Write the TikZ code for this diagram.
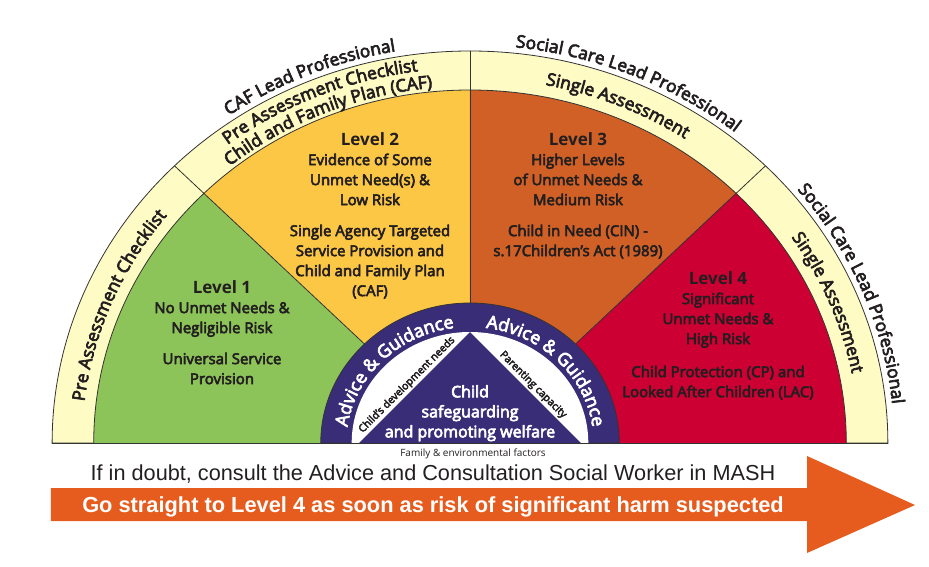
\documentclass[tikz,border=0pt]{standalone}
\usepackage{fontspec}
\setmainfont{Open Sans}
\newfontfamily\semifont[FakeBold=4]{Open Sans}
\newfontfamily\narrowfont{Liberation Sans}
\usetikzlibrary{decorations.text}
\definecolor{lvlone}{HTML}{8CC45A}
\definecolor{lvltwo}{HTML}{FDC746}
\definecolor{lvlthree}{HTML}{D06026}
\definecolor{lvlfour}{HTML}{CC0033}
\definecolor{bandcol}{HTML}{FFFBC4}
\definecolor{purp}{HTML}{3A2D78}
\definecolor{arrowcol}{HTML}{E65C1E}
\definecolor{txtcol}{HTML}{231F20}
\definecolor{edgecol}{HTML}{333333}
\newcommand\lvltitle[1]{{\rmfamily\bfseries\fontsize{17}{20}\selectfont #1}}
\begin{document}
\begin{tikzpicture}[x=1pt,y=1pt,line join=round,line cap=round,
 rim/.style={draw=edgecol,line width=0.8pt},
 lvltext/.style={align=center,inner sep=0pt,anchor=north,text=txtcol,font=\semifont\fontsize{15}{20}\selectfont},
 sidetext/.style={inner sep=0pt,text=txtcol,font=\semifont\fontsize{10.5}{10}\selectfont},
 bandtext/.style={decorate,decoration={text along path,text align=center,text color=txtcol,
  text={|\semifont\fontsize{17.5}{16}\selectfont|#1}}},
 ringtext/.style={decorate,decoration={text along path,text align=center,text color=white,
  text={|\semifont\fontsize{18}{16}\selectfont|#1}}}]
 \useasboundingbox (-470,-123) rectangle (459,443);
 % the fan of levels
 \begin{scope}[xscale=1.066]
 \filldraw[bandcol,rim] (180:392) arc (180:0:392) -- cycle;
 \fill[lvlone] (0,0) -- (180:353) arc (180:135:353) -- cycle;
 \fill[lvltwo] (0,0) -- (135:353) arc (135:90:353) -- cycle;
 \fill[lvlthree] (0,0) -- (90:353) arc (90:45:353) -- cycle;
 \fill[lvlfour] (0,0) -- (45:353) arc (45:0:353) -- cycle;
 \draw[rim] (180:353) arc (180:0:353);
 \foreach \a in {45,90,135}
 \draw[rim] (\a:140) -- (\a:392);
 \filldraw[purp,rim] (180:140) arc (180:0:140) -- cycle;
 \fill[white] (180:111) arc (180:0:111) -- cycle;
 \fill[purp] (-104,0) -- (0,111) -- (104,0) -- cycle;
 \draw[rim] (180:392) -- (0:392);
 % texts round the band
 \path[bandtext={Pre Assessment Checklist}] (180:364) arc (180:135:364);
 \path[bandtext={Pre Assessment Checklist}] (135:375) arc (135:90:375);
 \path[bandtext={Child and Family Plan (CAF)}] (135:357) arc (135:90:357);
 \path[bandtext={Single Assessment}] (90:365) arc (90:45:365);
 \path[bandtext={Single Assessment}] (45:365) arc (45:0:365);
 \path[bandtext={CAF Lead Professional}] (135:398) arc (135:90:398);
 \path[bandtext={Social Care Lead Professional}] (90:398) arc (90:45:398);
 \path[bandtext={Social Care Lead Professional}] (45:398) arc (45:0:398);
 \path[ringtext={Advice {\&} Guidance}] (180:116) arc (180:90:116);
 \path[ringtext={Advice {\&} Guidance}] (90:116) arc (90:0:116);
 \end{scope}
 % level texts
 \node[lvltext] (lvl1) at (-248,163) {\lvltitle{Level 1}\\ No Unmet Needs \&\\ Negligible Risk\\[11pt] Universal Service\\ Provision};
 \node[lvltext] (lvl2) at (-100,311) {\lvltitle{Level 2}\\ Evidence of Some\\ Unmet Need(s) \&\\ Low Risk\\[11pt] Single Agency Targeted\\ Service Provision and\\ Child and Family Plan\\ (CAF)};
 \node[lvltext] (lvl3) at (108,311) {\lvltitle{Level 3}\\ Higher Levels\\ of Unmet Needs \&\\ Medium Risk\\[11pt] Child in Need (CIN) -\\ s.17Children’s Act (1989)};
 \node[lvltext] (lvl4) at (248,172) {\lvltitle{Level 4}\\ Significant\\ Unmet Needs \&\\ High Risk\\[13pt] Child Protection (CP) and\\ Looked After Children (LAC)};
 % the triangle
 \node[lvltext,text=white,font=\semifont\fontsize{16}{20}\selectfont] (safe) at (0,58) {Child\\ safeguarding\\ and promoting welfare};
 \node[sidetext,rotate=45] (devneeds) at (-63,58) {Child’s development needs};
 \node[sidetext,rotate=-45] (parenting) at (63,58) {Parenting capacity};
 \node[sidetext,anchor=base,font=\fontsize{10}{10}\selectfont] (family) at (3,-13) {Family \& environmental factors};
 % the arrow
 \fill[arrowcol] (-419,-45) -- (337,-45) -- (337,-13) -- (445,-62) -- (337,-110) -- (337,-78) -- (-419,-78) -- cycle;
 \node[anchor=base,text=txtcol,font=\narrowfont\fontsize{21.7}{20}\selectfont] (doubt) at (-37,-37) {If in doubt, consult the Advice and Consultation Social Worker in MASH};
 \node[anchor=base,text=white,font=\narrowfont\bfseries\fontsize{21.8}{24}\selectfont] (straight) at (-37,-69) {Go straight to Level 4 as soon as risk of significant harm suspected};
\end{tikzpicture}
\end{document}
